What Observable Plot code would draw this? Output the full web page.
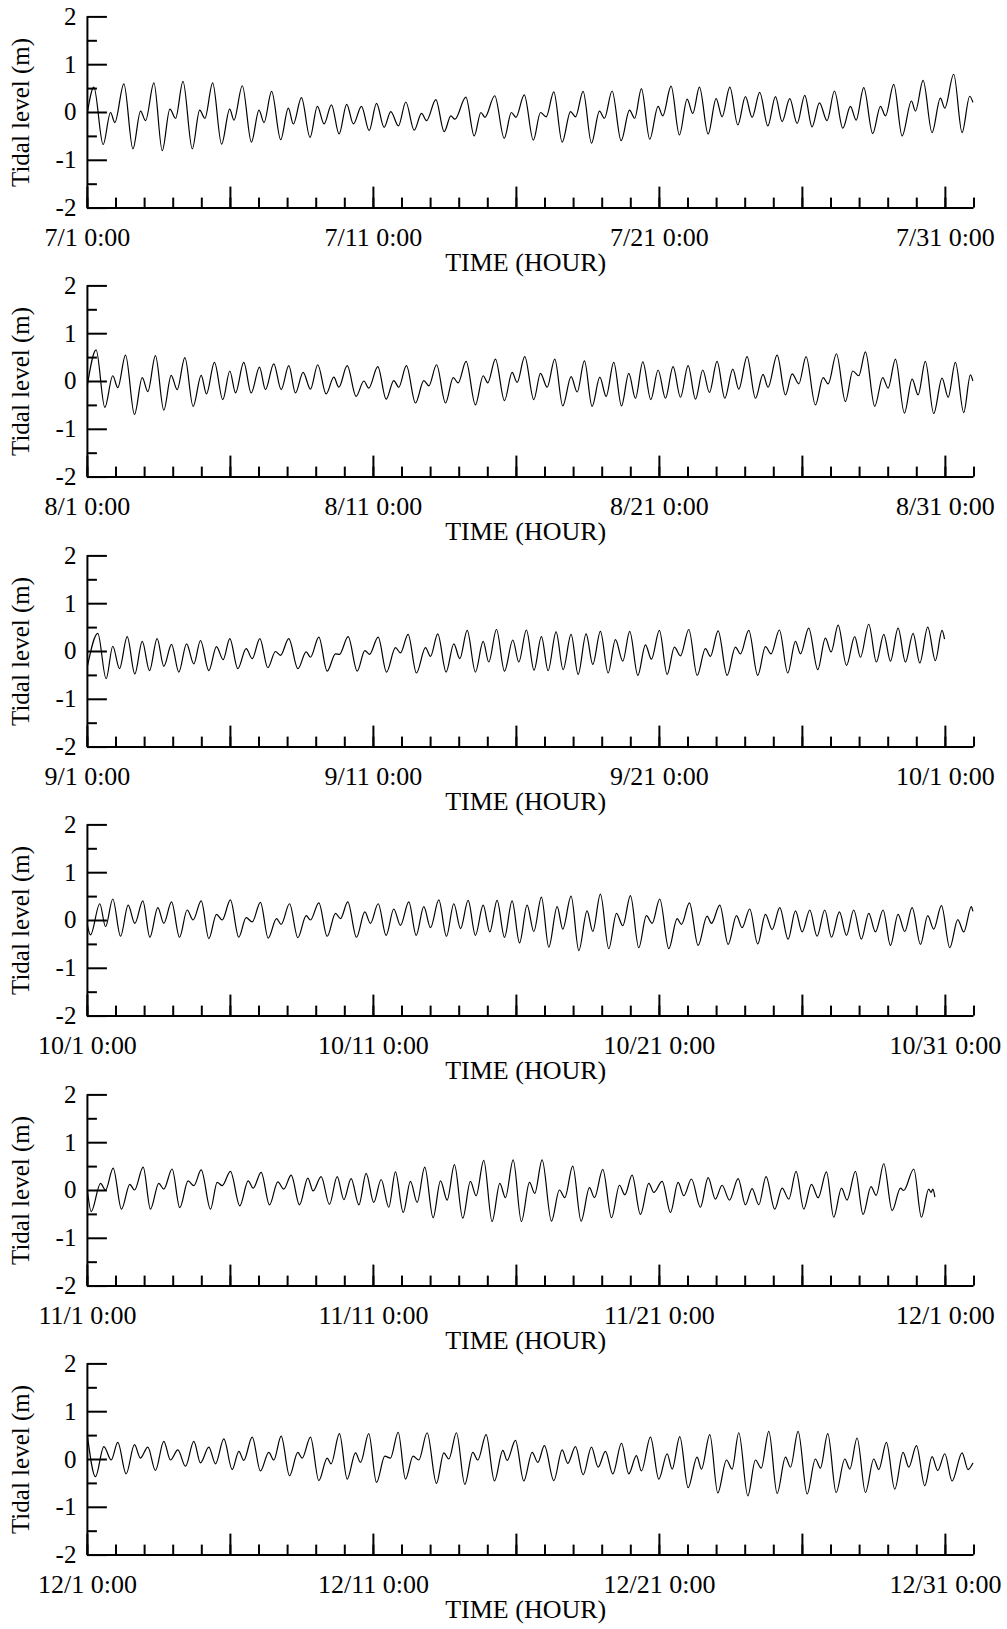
<!DOCTYPE html>
<html>
<head>
<meta charset="utf-8">
<script src="https://cdn.jsdelivr.net/npm/d3@7"></script>
<script src="https://cdn.jsdelivr.net/npm/@observablehq/plot@0.6"></script>
<style>
  html, body { margin: 0; padding: 0; background: #fff; }
  #chart svg { display: block; }
</style>
</head>
<body>
<div id="chart"></div>
<script>
// Turning points of the tidal level: hours since the 1st 0:00, level in m
const julHour = [0,5.4,13.2,19.4,23.0,30.6,38.2,44.6,48.8,55.8,62.8,69.2,74.0,80.2,88.0,94.2,98.6,105.1,112.6,119.4,123.0,130.0,137.6,144.0,148.2,154.6,162.2,168.6,172.8,179.6,186.8,193.0,198.6,204.8,211.2,217.6,223.2,230.0,236.4,242.6,249.0,254.6,261.0,267.2,274.2,280.4,284.6,292.4,299.4,305.0,308.4,317.6,324.6,330.2,333.6,341.8,349.8,355.8,359.6,366.6,374.2,380.2,385,391.4,398.4,405.4,409.6,416,423,429.7,433.9,440.3,447.9,454.9,459.3,464.9,471.9,478.9,482.8,489.8,496.8,503.3,508,513.6,520.9,527.6,532.6,539.1,545.8,552.2,557.8,564.2,571,577.4,583,589.4,595.6,602,608.1,614.3,620.7,626.9,633.9,640.3,645.1,651.5,659,665.5,669.7,676.7,683.7,691.5,694.9,701.3,708.8,715.8,719.5,727,734,740.4,743];
const julLevel = [0.0,0.53,-0.67,0.0,-0.21,0.60,-0.76,0.03,-0.17,0.62,-0.80,0.07,-0.12,0.65,-0.76,0.05,-0.12,0.62,-0.66,0.07,-0.16,0.56,-0.62,0.05,-0.21,0.44,-0.57,0.09,-0.24,0.31,-0.52,0.13,-0.24,0.16,-0.45,0.17,-0.24,0.13,-0.38,0.19,-0.31,0.02,-0.28,0.22,-0.37,-0.02,-0.17,0.27,-0.40,-0.07,-0.14,0.32,-0.49,0.0,-0.10,0.35,-0.54,0.0,-0.10,0.37,-0.58,0.0,-0.09,0.43,-0.62,0.02,-0.09,0.44,-0.64,0.03,-0.12,0.45,-0.59,0.05,-0.12,0.50,-0.56,0.13,-0.07,0.55,-0.47,0.28,-0.02,0.53,-0.45,0.29,-0.09,0.53,-0.26,0.33,-0.10,0.42,-0.28,0.33,-0.19,0.29,-0.23,0.36,-0.30,0.20,-0.17,0.45,-0.33,0.13,-0.16,0.52,-0.44,0.13,-0.07,0.59,-0.49,0.24,0.03,0.67,-0.42,0.30,0.09,0.80,-0.42,0.34,0.22];

const augHour = [0,7.3,14.6,21.3,25.5,32,39.5,46,50.7,57.1,64.1,70.3,75.3,81.8,88.7,95.5,99.9,106.6,113.6,119.5,124.3,131.2,137.4,144.4,149.4,156.4,162.6,169,174.6,181,187.2,193.3,200.3,206.8,211,218,225.5,232,236.1,243.7,250.7,257.1,261.3,267.7,275.3,282.3,286.5,293,300.5,307,311.1,317.8,325.6,332.1,336,342.4,350,356.4,360.6,367,374.6,380.2,385.8,392.2,398.9,405.9,411,417.1,423.5,430,435.3,441.7,448.2,454.3,459.9,466.1,472.8,478.9,485.1,491.5,497.7,504.1,510.3,516.4,522,528.4,534.9,541.6,546.6,553.6,560.6,567,571.2,578.8,585.8,591.4,597,603.1,610.9,617.4,621.6,628.6,636.1,642.3,647.3,652.9,660.7,667.4,671.9,678.1,685.6,692.1,697.1,703.2,710.2,717.2,722.3,728.4,735.4,741,743];
const augLevel = [-0.07,0.66,-0.54,0.12,-0.13,0.55,-0.69,0.08,-0.21,0.54,-0.60,0.13,-0.17,0.50,-0.52,0.13,-0.26,0.40,-0.38,0.22,-0.24,0.40,-0.24,0.30,-0.17,0.37,-0.17,0.33,-0.24,0.19,-0.16,0.35,-0.26,0.09,-0.12,0.33,-0.31,0.01,-0.14,0.31,-0.37,0.02,-0.12,0.33,-0.45,0.02,-0.09,0.35,-0.45,0.08,-0.03,0.42,-0.49,0.12,-0.03,0.47,-0.40,0.19,-0.02,0.52,-0.38,0.17,-0.12,0.47,-0.51,0.10,-0.22,0.43,-0.52,0.09,-0.31,0.40,-0.51,0.17,-0.35,0.41,-0.38,0.24,-0.35,0.31,-0.33,0.33,-0.37,0.24,-0.23,0.42,-0.35,0.26,-0.16,0.52,-0.35,0.15,-0.12,0.55,-0.28,0.16,-0.05,0.52,-0.49,0.08,-0.05,0.58,-0.42,0.22,0.12,0.62,-0.52,0.08,-0.14,0.47,-0.66,0.05,-0.28,0.42,-0.67,0.07,-0.33,0.40,-0.65,0.14,0.02];

const sepHour = [0,8.7,15.7,21.3,26.9,33.4,39.8,46,52.1,58.5,64.1,70.6,76.7,83.2,89.3,94.9,101.9,108.3,113.9,119.5,126.2,133.2,138.3,144.7,151.4,157.8,162,169,176.6,183.6,187.2,194.2,201.2,208.2,211.5,218.8,226.4,232.8,236.7,244,251,258.5,262.7,269.1,276.1,283.7,287.9,294,301,307.5,312.5,318.7,325.6,332.1,336.8,343.3,350,357,362,368.4,374.8,381,386.6,393.3,399.2,405.9,411.8,418.5,424.1,430.5,437,443.1,449.3,455.1,461.9,468.3,473.3,480,486.5,492.6,497.7,504.7,511.7,518.6,522.8,529.3,536.8,543.8,548,555,562.5,569,573.7,580.7,587.7,594.2,598.4,605.3,612.9,619.3,624.1,630,637,643.9,648.7,655.7,662.1,668.3,673.9,680.3,686.5,692.9,698.5,705.2,711.6,717.2,719.2];
const sepLevel = [-0.31,0.38,-0.57,0.11,-0.36,0.31,-0.47,0.21,-0.40,0.27,-0.31,0.15,-0.43,0.16,-0.26,0.23,-0.40,0.10,-0.17,0.27,-0.36,0.06,-0.15,0.27,-0.34,0.0,-0.08,0.27,-0.36,-0.01,-0.12,0.30,-0.41,-0.05,-0.06,0.31,-0.41,0.02,-0.06,0.30,-0.43,0.08,-0.03,0.36,-0.45,0.08,-0.10,0.37,-0.43,0.16,-0.15,0.44,-0.43,0.21,-0.22,0.46,-0.41,0.24,-0.22,0.45,-0.39,0.31,-0.40,0.41,-0.38,0.36,-0.48,0.37,-0.27,0.42,-0.45,0.25,-0.20,0.42,-0.50,0.14,-0.16,0.44,-0.48,0.09,-0.09,0.46,-0.50,0.06,-0.10,0.43,-0.50,0.09,-0.05,0.44,-0.50,0.10,-0.05,0.45,-0.45,0.21,-0.05,0.49,-0.38,0.28,-0.01,0.55,-0.29,0.31,-0.12,0.57,-0.22,0.36,-0.20,0.49,-0.22,0.38,-0.24,0.51,-0.19,0.44,0.27];

const octHour = [0,2.6,10.4,15.2,21.3,27.8,34.2,39.8,46.5,52.4,59.1,64.1,70.6,77.3,83.7,88.7,95.5,101.9,108.3,113.1,120,127,133.2,138.3,145.2,151.7,158.7,162.6,169.6,176.6,183.6,187.2,194.2,201.2,208.2,212.4,218.5,225.8,232.8,237.5,244,250.7,257.1,262.7,269.7,275.9,282.3,287.9,294.9,301.3,307.5,313.1,319.5,325.6,332.1,337.7,343.8,350,356.4,362.6,369,374.6,381,387.2,394.2,398.9,405.9,412.4,419.3,424.1,430.5,437.5,444,449.3,455.7,462.7,469.1,473.9,480.3,487.9,494.9,498.5,505.2,512.5,520,523.7,530.7,537.7,544.7,549.4,555.8,562.5,569,574.6,581,588,594.2,599.8,606.2,612.3,618.8,624.4,631.1,637,643.1,649.5,655.7,661.3,667.7,673.9,680.3,685.9,692.1,699.1,705.2,710.2,716.7,723.7,730.4,735.4,741.8,743];
const octLevel = [-0.10,-0.30,0.35,-0.13,0.45,-0.33,0.32,-0.06,0.41,-0.35,0.27,-0.06,0.39,-0.35,0.22,0.01,0.41,-0.38,0.13,0.01,0.43,-0.35,0.06,-0.03,0.38,-0.37,0.04,-0.08,0.35,-0.36,0.10,0.01,0.37,-0.33,0.15,0.04,0.39,-0.35,0.18,-0.06,0.35,-0.31,0.24,-0.10,0.39,-0.31,0.29,-0.15,0.43,-0.33,0.35,-0.17,0.42,-0.31,0.32,-0.24,0.42,-0.35,0.41,-0.47,0.32,-0.23,0.49,-0.56,0.29,-0.18,0.51,-0.63,0.20,-0.23,0.55,-0.59,0.15,-0.11,0.52,-0.57,0.10,-0.06,0.45,-0.59,0.04,-0.08,0.37,-0.52,0.09,-0.06,0.32,-0.50,0.10,-0.15,0.24,-0.49,0.13,-0.19,0.27,-0.39,0.20,-0.24,0.22,-0.33,0.22,-0.35,0.18,-0.31,0.22,-0.39,0.15,-0.24,0.22,-0.52,0.13,-0.23,0.27,-0.50,0.10,-0.18,0.31,-0.57,0.02,-0.24,0.29,0.20];

const novHour = [0,3.2,11,15.2,21.6,28.6,35.6,39.5,46.8,52.9,59.9,64.1,71.1,77.5,84.5,89.3,95.5,103.3,108.9,113.1,120,127.9,134.9,139.1,145.8,152.8,159.8,164.8,171,178,185,189.4,196.1,203.1,209.6,215.2,221.3,227.8,233.9,240.3,246.5,252.9,258.5,265,271.1,276.7,283.1,290.1,296.3,301.9,308,315,321.4,326.2,332.6,339.6,346.1,350.8,357.3,364.2,371,375.4,381.6,389.4,396.1,400.6,407.3,414.3,421.3,425.5,432.5,439.8,446.5,451,457.1,464.1,471.1,475.3,482.3,489.3,495.7,500.5,506.9,514.4,520.9,527,532.6,538.8,546.1,552.2,557.8,563.4,569.5,576.8,583,588.6,594.7,601.2,607.6,613.2,620.2,626.3,632.8,637.5,644.5,650.9,657.6,661.9,668.3,675.3,682.3,685,693.5,699.9,706,708,709.5,711.1];
const novLevel = [0.0,-0.44,0.15,0.01,0.47,-0.39,0.13,0.01,0.49,-0.39,0.15,0.03,0.45,-0.36,0.20,0.10,0.43,-0.39,0.17,0.10,0.40,-0.32,0.20,0.05,0.38,-0.30,0.18,0.03,0.32,-0.30,0.26,-0.01,0.29,-0.29,0.29,-0.19,0.25,-0.30,0.36,-0.25,0.23,-0.35,0.39,-0.46,0.19,-0.25,0.49,-0.57,0.20,-0.20,0.54,-0.58,0.19,-0.11,0.63,-0.65,0.15,-0.15,0.64,-0.65,0.17,-0.06,0.64,-0.64,0.01,-0.15,0.51,-0.64,0.06,-0.15,0.44,-0.57,0.11,-0.09,0.32,-0.50,0.15,-0.04,0.19,-0.46,0.17,-0.11,0.24,-0.35,0.27,-0.18,0.11,-0.20,0.25,-0.30,0.04,-0.30,0.29,-0.39,0.05,-0.18,0.40,-0.39,0.13,-0.15,0.39,-0.56,0.05,-0.20,0.40,-0.50,0.08,-0.10,0.56,-0.42,0.05,0.0,0.45,-0.56,0.03,-0.04,0.03,-0.13];

const decHour = [0,6.8,13.8,20,25.5,32.5,39.5,44.5,50.7,57.1,64.1,69.7,75.9,82.3,89.3,94.9,101.9,107.5,114.5,121.5,127.1,131.2,138.3,145.2,152.2,156.4,162.6,169.6,176.6,180.2,187.2,194.2,201.2,204.5,211.5,218,225,229.2,236.1,242.6,249.6,254.3,260.8,266.9,273.3,278.1,285.1,292.9,299.1,303.3,309.7,316.7,323.4,327.6,334.6,341.6,348.6,352.2,359.2,366.2,373.2,378,383.5,391.4,398.4,403.1,409.6,416,423,428.6,434.7,440.9,448.2,454.3,460.7,464.9,472.5,479.5,486.5,490.7,497.1,504.1,511.6,515.3,522.3,529,536.3,541,546.6,554.2,560.6,565.4,571.8,578.8,585.8,590,596.4,604,610.9,615.1,621.3,628.3,635.6,639.8,645.9,652.9,659.9,664.1,670.5,677.5,684.5,689.3,695.7,702.7,708.8,713.6,719.5,725.6,734,739,743];
const decLevel = [0.50,-0.36,0.27,-0.01,0.36,-0.30,0.31,0.03,0.26,-0.23,0.38,-0.01,0.20,-0.14,0.38,-0.07,0.26,-0.09,0.43,-0.21,0.17,-0.02,0.47,-0.24,0.15,-0.01,0.49,-0.34,0.15,0.03,0.47,-0.44,0.03,-0.09,0.54,-0.41,0.14,-0.06,0.54,-0.48,0.07,0.03,0.57,-0.41,0.07,-0.01,0.56,-0.50,0.14,0.01,0.56,-0.52,0.15,-0.01,0.52,-0.45,0.19,-0.02,0.40,-0.45,0.15,-0.06,0.29,-0.44,0.20,-0.08,0.27,-0.32,0.26,-0.16,0.17,-0.30,0.34,-0.30,0.08,-0.24,0.47,-0.41,0.12,-0.20,0.48,-0.59,0.05,-0.20,0.52,-0.70,-0.01,-0.20,0.56,-0.76,-0.01,-0.18,0.59,-0.71,0.05,-0.16,0.59,-0.72,0.01,-0.18,0.54,-0.69,0.01,-0.20,0.45,-0.69,0.01,-0.21,0.36,-0.62,0.15,-0.16,0.29,-0.55,0.06,-0.23,0.12,-0.45,0.14,-0.21,-0.08];

// Axis labels
const julLabels = ["7/1 0:00", "7/11 0:00", "7/21 0:00", "7/31 0:00"];
const augLabels = ["8/1 0:00", "8/11 0:00", "8/21 0:00", "8/31 0:00"];
const sepLabels = ["9/1 0:00", "9/11 0:00", "9/21 0:00", "10/1 0:00"];
const octLabels = ["10/1 0:00", "10/11 0:00", "10/21 0:00", "10/31 0:00"];
const novLabels = ["11/1 0:00", "11/11 0:00", "11/21 0:00", "12/1 0:00"];
const decLabels = ["12/1 0:00", "12/11 0:00", "12/21 0:00", "12/31 0:00"];
const labelHours = [0, 240, 480, 720];
const yLabels = [-2, -1, 0, 1, 2];
const yMinor = [-1.5, -0.5, 0.5, 1.5];
const xTitle = "TIME (HOUR)";
const yTitle = "Tidal level (m)";

const panels = [
  [julHour, julLevel, julLabels],
  [augHour, augLevel, augLabels],
  [sepHour, sepLevel, sepLabels],
  [octHour, octLevel, octLabels],
  [novHour, novLevel, novLabels],
  [decHour, decLevel, decLabels]
];

const dayTicks = d3.range(0, 745, 24);
const fiveDayTicks = d3.range(0, 745, 120);

const W = 1007, H = 269.4, PAGE_H = 1629;
const mL = 86.9, mR = 33.5, mT = 16.4, plotH = 191.2;
const plotW = W - mL - mR;
const FONT = "'Liberation Serif', 'Times New Roman', Times, serif";

const root = document.getElementById("chart");
panels.forEach(([hours, levels, labels], k) => {
  const h = k === panels.length - 1 ? PAGE_H - H * (panels.length - 1) : H;
  const data = hours.map((t, i) => ({h: t, v: levels[i]}));
  const svg = Plot.plot({
    width: W, height: h,
    marginLeft: mL, marginRight: mR, marginTop: mT, marginBottom: h - mT - plotH,
    x: {domain: [0, 744], axis: null},
    y: {domain: [-2, 2], axis: null},
    style: {fontFamily: FONT, background: "white", color: "black", overflow: "visible"},
    marks: [
      Plot.tickY(yMinor, {y: d => d, insetRight: plotW - 10, strokeWidth: 2, stroke: "black"}),
      Plot.tickY(yLabels, {y: d => d, insetRight: plotW - 20, strokeWidth: 2, stroke: "black"}),
      Plot.tickX(dayTicks, {x: d => d, insetTop: plotH - 10, strokeWidth: 2, stroke: "black"}),
      Plot.tickX(fiveDayTicks, {x: d => d, insetTop: plotH - 21, strokeWidth: 2, stroke: "black"}),
      Plot.ruleX([0], {strokeWidth: 2, stroke: "black"}),
      Plot.ruleY([-2], {strokeWidth: 2, stroke: "black"}),
      Plot.line(data, {x: "h", y: "v", curve: "monotone-x", stroke: "black", strokeWidth: 1.2}),
      Plot.text(yLabels, {x: 0, y: d => d, text: d => String(d), textAnchor: "end", lineAnchor: "middle", dx: -11, fontSize: 25, fill: "black"}),
      Plot.text(labelHours, {x: d => d, y: -2, text: (d, i) => labels[i], textAnchor: "middle", lineAnchor: "middle", dy: 30, fontSize: 26, fill: "black"}),
      Plot.text([xTitle], {x: 372, y: -2, textAnchor: "middle", lineAnchor: "middle", dx: -5, dy: 55, fontSize: 26, fill: "black"}),
      Plot.text([yTitle], {x: 0, y: 0, textAnchor: "middle", lineAnchor: "middle", dx: -66, rotate: -90, fontSize: 25, fill: "black"})
    ]
  });
  root.appendChild(svg);
});
</script>
</body>
</html>
